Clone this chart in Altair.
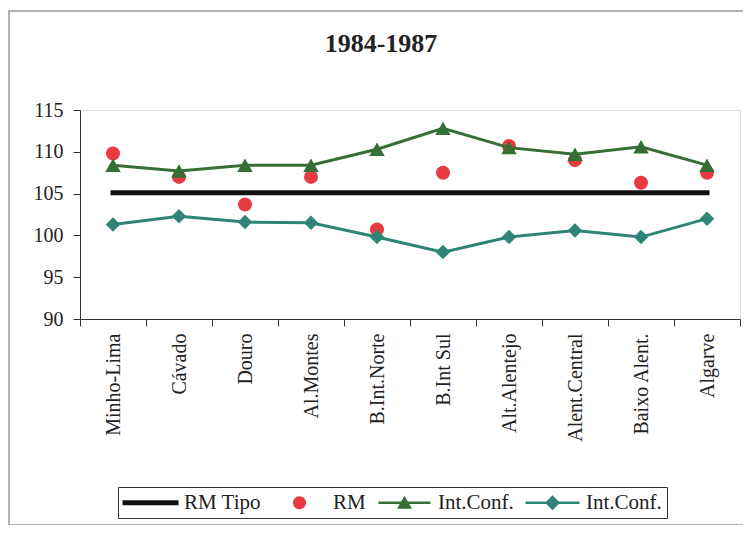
import altair as alt
import pandas as pd

# ---- data ----
regions = ["Minho-Lima", "Cávado", "Douro", "Al.Montes", "B.Int.Norte",
           "B.Int Sul", "Alt.Alentejo", "Alent.Central", "Baixo Alent.", "Algarve"]
rm_tipo = [105.1, 105.1, 105.1, 105.1, 105.1, 105.1, 105.1, 105.1, 105.1, 105.1]
rm = [109.8, 107.0, 103.7, 107.0, 100.7, 107.5, 110.7, 109.0, 106.3, 107.5]
ic_upper = [108.4, 107.7, 108.4, 108.4, 110.3, 112.8, 110.5, 109.7, 110.6, 108.4]
ic_lower = [101.3, 102.3, 101.6, 101.5, 99.8, 98.0, 99.8, 100.6, 99.8, 102.0]

series_names = ["RM Tipo", "RM", "Int.Conf.", "Int.Conf. "]
series_colors = ["#111111", "#e63b40", "#356f35", "#2f8575"]
legend_paths = [
    "M-2.8,-0.25H2.8V0.25H-2.8Z",
    "M-0.65,0A0.65,0.65,0,1,1,0.65,0A0.65,0.65,0,1,1,-0.65,0Z",
    "M-2.6,-0.13H2.6V0.13H-2.6ZM-0.75,0.6L0,-0.7L0.75,0.6Z",
    "M-2.7,-0.13H2.7V0.13H-2.7ZM-0.75,0L0,-0.75L0.75,0L0,0.75Z",
]

rows = []
for name, vals in zip(series_names, [rm_tipo, rm, ic_upper, ic_lower]):
    for r, v in zip(regions, vals):
        rows.append({"region": r, "series": name, "value": v})
df = pd.DataFrame(rows)

legend_df = pd.DataFrame({"series": series_names,
                          "region": [None] * 4,
                          "value": [None] * 4})

FONT = "Liberation Serif"

color_scale = alt.Scale(domain=series_names, range=series_colors)
shape_scale = alt.Scale(domain=series_names, range=legend_paths)

x_enc = alt.X("region:N", sort=regions,
              scale=alt.Scale(type="band", domain=regions, paddingInner=0, paddingOuter=0),
              axis=alt.Axis(title=None, labelAngle=-90, tickBand="extent", tickSize=7,
                            labelPadding=7, labelFont=FONT, labelFontSize=20,
                            labelColor="#222", domainColor="#333", tickColor="#333",
                            labelLimit=0))
y_enc = alt.Y("value:Q",
              scale=alt.Scale(domain=[90, 115], nice=False, zero=False),
              axis=alt.Axis(title=None, values=[90, 95, 100, 105, 110, 115], grid=False,
                            tickSize=7, labelPadding=10, labelFont=FONT, labelFontSize=20,
                            labelColor="#222", domainColor="#333", tickColor="#333"))
c_enc = alt.Color("series:N", scale=color_scale, legend=None)

base = alt.Chart(df)

tipo_line = base.transform_filter(alt.datum.series == "RM Tipo").mark_line(
    strokeWidth=5, strokeCap="square").encode(x=x_enc, y=y_enc, color=c_enc)

rm_pts = base.transform_filter(alt.datum.series == "RM").mark_point(
    filled=True, shape="circle", size=196, opacity=1).encode(x=x_enc, y=y_enc, color=c_enc)

up_line = base.transform_filter(alt.datum.series == "Int.Conf.").mark_line(
    strokeWidth=3).encode(x=x_enc, y=y_enc, color=c_enc)
up_pts = base.transform_filter(alt.datum.series == "Int.Conf.").mark_point(
    filled=True, shape="triangle-up", size=240, opacity=1).encode(x=x_enc, y=y_enc, color=c_enc)

lo_line = base.transform_filter(alt.datum.series == "Int.Conf. ").mark_line(
    strokeWidth=3).encode(x=x_enc, y=y_enc, color=c_enc)
lo_pts = base.transform_filter(alt.datum.series == "Int.Conf. ").mark_point(
    filled=True, shape="diamond", size=210, opacity=1).encode(x=x_enc, y=y_enc, color=c_enc)

leg = alt.Legend(orient="none", legendX=38, legendY=377, direction="horizontal",
                 columns=4, title=None, labelFont=FONT, labelFontSize=21,
                 labelColor="#222", symbolSize=400, symbolOffset=17, labelOffset=23,
                 columnPadding=11, padding=5, strokeColor="#333", fillColor="white",
                 symbolStrokeWidth=0, labelExpr="trim(datum.label)", labelLimit=0)

legend_layer = alt.Chart(legend_df).mark_point(filled=True, size=400, opacity=1).encode(
    x=x_enc, y=y_enc,
    color=alt.Color("series:N", scale=color_scale, legend=leg),
    shape=alt.Shape("series:N", scale=shape_scale, legend=leg),
)

frame = alt.Chart(alt.Data(values=[{"a": 1}])).mark_rect(
    fillOpacity=0, stroke="#999999", strokeWidth=1.5).encode(
    x=alt.value(-71), x2=alt.value(672), y=alt.value(-99), y2=alt.value(415))

chart = alt.layer(
    frame, tipo_line, rm_pts, up_line, up_pts, lo_line, lo_pts, legend_layer
).resolve_legend(
    color="independent", shape="independent"
).properties(
    width=660, height=209,
    title=alt.TitleParams("1984-1987", font=FONT, fontSize=26, fontWeight="bold",
                          color="#222", anchor="middle", dx=-29, offset=-47),
    autosize=alt.AutoSizeParams(type="none"),
    padding={"left": 72, "top": 102, "right": 3, "bottom": 206},
).configure_view(
    stroke="#555", strokeWidth=1
).configure(background="white")

chart.save("out.html", embed_options={"renderer": "svg", "actions": False})
